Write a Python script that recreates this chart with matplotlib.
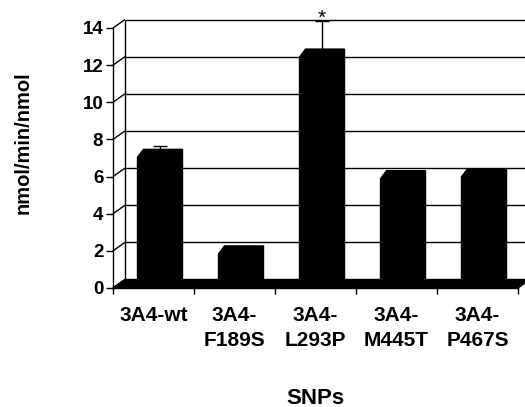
import numpy as np
import matplotlib
matplotlib.use("Agg")
import matplotlib.pyplot as plt

plt.rcParams['font.family'] = ['Liberation Sans', 'DejaVu Sans']
plt.rcParams['font.weight'] = 'bold'

categories = ["3A4-wt", "3A4-\nF189S", "3A4-\nL293P", "3A4-\nM445T", "3A4-\nP467S"]
activity = [6.9, 1.7, 12.3, 5.75, 5.85]
errors = [0.37, 0, 1.73, 0, 0]
significant = [False, False, True, False, False]
y_ticks = [0, 2, 4, 6, 8, 10, 12, 14]

fig = plt.figure(figsize=(5.25, 4.07), dpi=100)
# front plane of the fake 3D box
ax = fig.add_axes([113 / 525, 1 - 288 / 407, 405 / 525, 260 / 407])
n = len(categories)
ax.set_xlim(0, n)
ax.set_ylim(0, 14)

# pixel -> data units
ux = n / 405
uy = 14 / 260
wall_dx, wall_dy = 12 * ux, 8.5 * uy
shift_dx, shift_dy = 3.5 * ux, 2.5 * uy
depth_dx, depth_dy = 6 * ux, 8 * uy
bar_w = 39 * ux

line_kw = dict(color='black', lw=1.0, clip_on=False, solid_capstyle='butt')

# back wall + gridlines
ax.plot([wall_dx, wall_dx], [wall_dy, 14 + wall_dy], **line_kw)
for g in y_ticks[1:]:
    ax.plot([wall_dx, n + wall_dx], [g + wall_dy, g + wall_dy], **line_kw)
# side wall diagonals
for g in y_ticks:
    ax.plot([0, wall_dx], [g, g + wall_dy], **line_kw)

# floor
ax.fill([0, n, n + wall_dx, wall_dx], [0, 0, wall_dy, wall_dy],
        color='black', clip_on=False, zorder=2)

# bars (front face + top + side, all black)
for i, v in enumerate(activity):
    x0 = i + 0.5 + shift_dx - bar_w / 2
    top = v + shift_dy
    xs = [x0, x0, x0 + depth_dx, x0 + bar_w + depth_dx, x0 + bar_w + depth_dx, x0 + bar_w]
    ys = [0, top, top + depth_dy, top + depth_dy, depth_dy, 0]
    ax.fill(xs, ys, color='black', clip_on=False, zorder=3)

    if errors[i] > 0:
        xe = i + 0.5 + shift_dx + depth_dx / 2
        base = top + depth_dy / 2
        etop = base + errors[i]
        ax.plot([xe, xe], [top + depth_dy, etop], zorder=4, **line_kw)
        ax.plot([xe - 7 * ux, xe + 7 * ux], [etop, etop], zorder=4, **line_kw)
        if significant[i]:
            ax.annotate('*', xy=(xe, etop), xytext=(0, -2.2), textcoords='offset points',
                        ha='center', va='baseline', fontsize=15, fontweight='normal',
                        annotation_clip=False)

# axes / ticks
for side in ['top', 'right']:
    ax.spines[side].set_visible(False)
for side in ['left', 'bottom']:
    ax.spines[side].set_linewidth(1.0)
    ax.spines[side].set_zorder(5)
ax.set_facecolor('none')

ax.set_yticks(y_ticks)
ax.tick_params(axis='y', direction='out', length=5, width=1, pad=2, labelsize=13.5)

ax.set_xticks(np.arange(n + 1))
ax.set_xticklabels([])
ax.set_xticks(np.arange(n) + 0.5, minor=True)
ax.set_xticklabels(categories, minor=True, fontsize=15, linespacing=1.4)
ax.tick_params(axis='x', which='major', direction='out', length=4, width=1)
ax.tick_params(axis='x', which='minor', length=0, pad=13)

fig.text(23 / 525, 1 - 143 / 407, 'nmol/min/nmol', rotation=90,
         ha='center', va='center', fontsize=14.5)
fig.text(315 / 525, 1 - 398 / 407, 'SNPs', ha='center', va='center', fontsize=16)

fig.savefig('out.png', dpi=100)
